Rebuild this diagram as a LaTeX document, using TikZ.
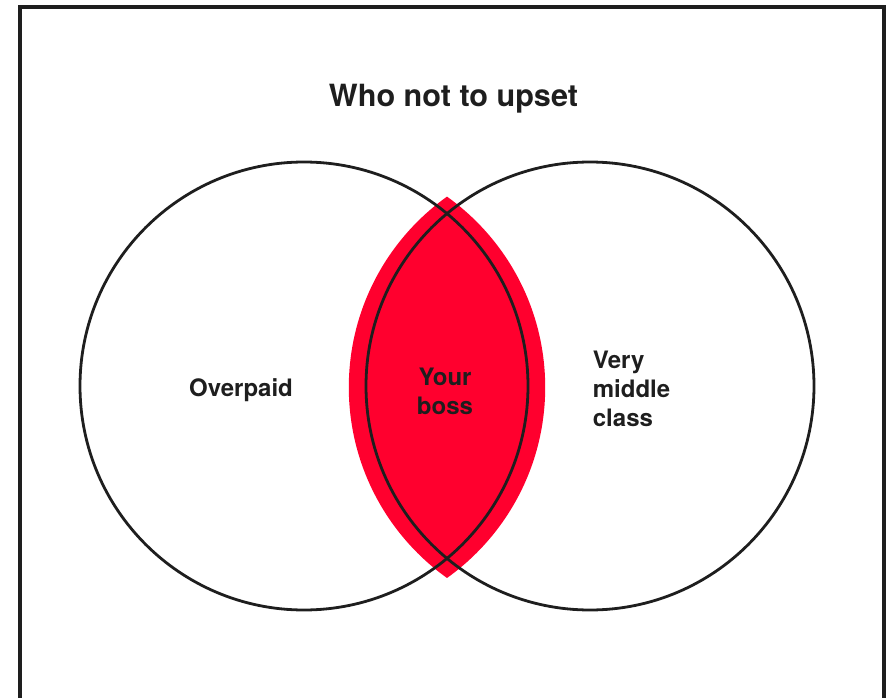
\documentclass[tikz,border=0pt]{standalone}
\usepackage{fontspec}
\setmainfont{TeX Gyre Heros}
\definecolor{lensred}{RGB}{255,0,46}
\definecolor{ink}{RGB}{30,30,30}

\begin{document}
\begin{tikzpicture}[x=1pt,y=-1pt,
    lbl/.style={font=\bfseries\fontsize{24}{29}\selectfont,text=ink,inner sep=0pt}]
  \useasboundingbox (0,0) rectangle (895,698);
  \coordinate (cL) at (304,386); \coordinate (cR) at (590,386);
  % red lens, a bit wider than the overlap
  \begin{scope}
    \clip (583,387.3) circle (234.2pt);
    \fill[lensred] (311,387.3) circle (234.2pt);
  \end{scope}
  \foreach \c in {cL,cR} \draw[ink,line width=2.8pt] (\c) circle (224pt);
  \draw[ink,line width=4pt] (19.5,720) -- (19.5,7) -- (884,7) -- (884,720);
  \node[lbl,font=\bfseries\fontsize{30.6}{36}\selectfont,anchor=base] (title) at (453.5,106.7) {Who not to upset};
  \node[lbl,anchor=base] (over) at (241,396.7) {Overpaid};
  \node[lbl,align=center] (boss) at (445,391) {Your\\boss};
  \node[lbl,align=left,anchor=west] (mid) at (592.7,388.5) {Very\\middle\\class};
\end{tikzpicture}
\end{document}
